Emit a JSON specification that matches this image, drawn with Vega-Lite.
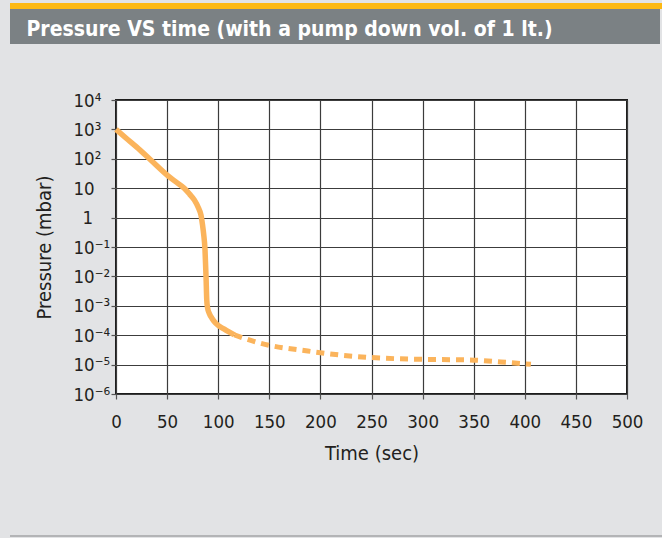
{
  "$schema": "https://vega.github.io/schema/vega-lite/v6.json",
  "background": "#e2e3e5",
  "padding": {"left": 10, "top": 3, "right": 0, "bottom": 1},
  "config": {
    "font": "DejaVu Sans Condensed, Roboto, sans-serif",
    "view": {"stroke": null}
  },
  "columns": 1,
  "align": "none",
  "spacing": 0,
  "concat": [
    {
      "data": {"values": [{}]},
      "width": 652,
      "height": 6,
      "view": {"fill": "#fdb913", "stroke": null},
      "mark": {"type": "rect", "color": "#fdb913"}
    },
    {
      "data": {"values": [{}]},
      "width": 650,
      "height": 35,
      "view": {"fill": "#7b8184", "stroke": null},
      "mark": {"type": "text", "text": ""},
      "encoding": {
        "x": {
          "datum": 0,
          "type": "quantitative",
          "scale": {"domain": [0, 1]},
          "axis": {
            "orient": "top",
            "title": "Pressure VS time (with a pump down vol. of 1 lt.)",
            "labels": false,
            "ticks": false,
            "domain": false,
            "grid": false,
            "minExtent": 0,
            "maxExtent": 0,
            "titleAnchor": "start",
            "titleAlign": "left",
            "titleBaseline": "alphabetic",
            "titleAngle": 0,
            "titleX": 16,
            "titleY": 26,
            "titleColor": "#ffffff",
            "titleFontSize": 21,
            "titleFontWeight": "bold"
          }
        }
      }
    },
    {
      "hconcat": [
        {
          "data": {"values": [{}]},
          "width": 1,
          "height": 1,
          "view": {"fill": null, "stroke": null},
          "mark": {"type": "rect", "opacity": 0}
        },
        {
          "width": 511,
          "height": 294,
          "title": {"text": " ", "orient": "top", "anchor": "start", "frame": "group", "dx": -104, "offset": 44, "fontSize": 2},
          "view": {"fill": "#ffffff", "stroke": "#1c1c1c", "strokeWidth": 2},
          "data": {
            "values": [
              {"t": 0, "p": 1000, "phase": "measured"},
              {"t": 10, "p": 500, "phase": "measured"},
              {"t": 20, "p": 254, "phase": "measured"},
              {"t": 34, "p": 91, "phase": "measured"},
              {"t": 50, "p": 28, "phase": "measured"},
              {"t": 58, "p": 17, "phase": "measured"},
              {"t": 66.8, "p": 10, "phase": "measured"},
              {"t": 72, "p": 6.3, "phase": "measured"},
              {"t": 76.6, "p": 4, "phase": "measured"},
              {"t": 80.5, "p": 2.2, "phase": "measured"},
              {"t": 83.2, "p": 1.2, "phase": "measured"},
              {"t": 84.7, "p": 0.55, "phase": "measured"},
              {"t": 85.7, "p": 0.29, "phase": "measured"},
              {"t": 87.1, "p": 0.079, "phase": "measured"},
              {"t": 88.1, "p": 0.0098, "phase": "measured"},
              {"t": 88.8, "p": 0.0016, "phase": "measured"},
              {"t": 89.6, "p": 0.00085, "phase": "measured"},
              {"t": 91.3, "p": 0.00055, "phase": "measured"},
              {"t": 94, "p": 0.00037, "phase": "measured"},
              {"t": 97.8, "p": 0.00025, "phase": "measured"},
              {"t": 106, "p": 0.00016, "phase": "measured"},
              {"t": 115.8, "p": 0.000102, "phase": "measured"},
              {"t": 115.8, "p": 0.000102, "phase": "projected"},
              {"t": 142, "p": 0.0000525, "phase": "projected"},
              {"t": 187.6, "p": 0.000029, "phase": "projected"},
              {"t": 220, "p": 0.000021, "phase": "projected"},
              {"t": 249.5, "p": 0.0000174, "phase": "projected"},
              {"t": 298.4, "p": 0.0000151, "phase": "projected"},
              {"t": 344, "p": 0.0000145, "phase": "projected"},
              {"t": 376.7, "p": 0.0000123, "phase": "projected"},
              {"t": 406, "p": 0.0000102, "phase": "projected"}
            ]
          },
          "encoding": {
            "x": {
              "field": "t",
              "type": "quantitative",
              "scale": {"domain": [0, 500], "nice": false, "zero": false},
              "axis": {
                "title": "Time (sec)",
                "values": [0, 50, 100, 150, 200, 250, 300, 350, 400, 450, 500],
                "grid": true,
                "gridColor": "#3c3c3c",
                "gridWidth": 1.2,
                "gridOpacity": 1,
                "domain": false,
                "tickColor": "#555555",
                "tickSize": 5,
                "tickWidth": 1.2,
                "labelFontSize": 18.5,
                "labelColor": "#231f20",
                "labelPadding": 13,
                "labelFlush": false,
                "labelOverlap": false,
                "titleFontSize": 20,
                "titleFontWeight": "normal",
                "titleColor": "#231f20",
                "titlePadding": 13
              }
            },
            "y": {
              "field": "p",
              "type": "quantitative",
              "scale": {"type": "log", "domain": [0.000001, 10000], "nice": false},
              "axis": {
                "title": "Pressure (mbar)",
                "values": [0.000001, 0.00001, 0.0001, 0.001, 0.01, 0.1, 1, 10, 100, 1000, 10000],
                "labelExpr": "['10⁻⁶','10⁻⁵','10⁻⁴','10⁻³','10⁻²','10⁻¹','1','10','10²','10³','10⁴'][round(log(datum.value)/LN10)+6]",
                "grid": true,
                "gridColor": "#3c3c3c",
                "gridWidth": 1.2,
                "gridOpacity": 1,
                "domain": false,
                "tickColor": "#555555",
                "tickSize": 5,
                "tickWidth": 1.2,
                "labelFontSize": 18.5,
                "labelColor": "#231f20",
                "labelAlign": "left",
                "labelBaseline": "middle",
                "labelPadding": {"condition": {"test": "datum.value == 1", "value": 29}, "value": 38},
                "labelOverlap": false,
                "titleFontSize": 20,
                "titleFontWeight": "normal",
                "titleColor": "#231f20",
                "titlePadding": 19
              }
            }
          },
          "layer": [
            {
              "transform": [{"filter": "datum.phase == 'measured'"}],
              "mark": {"type": "line", "color": "#fbb45c", "strokeWidth": 5.5, "interpolate": "monotone", "strokeCap": "butt"}
            },
            {
              "transform": [{"filter": "datum.phase == 'projected'"}],
              "mark": {"type": "line", "color": "#fbb45c", "strokeWidth": 5, "strokeDash": [8, 6], "interpolate": "monotone", "strokeCap": "butt"}
            }
          ]
        }
      ],
      "spacing": 0
    },
    {
      "data": {"values": [{}]},
      "width": 652,
      "height": 2,
      "title": {"text": " ", "orient": "top", "anchor": "start", "frame": "group", "offset": 68, "fontSize": 2},
      "view": {"fill": "#b3b4b6", "stroke": null},
      "mark": {"type": "rect", "color": "#b3b4b6"}
    }
  ]
}
